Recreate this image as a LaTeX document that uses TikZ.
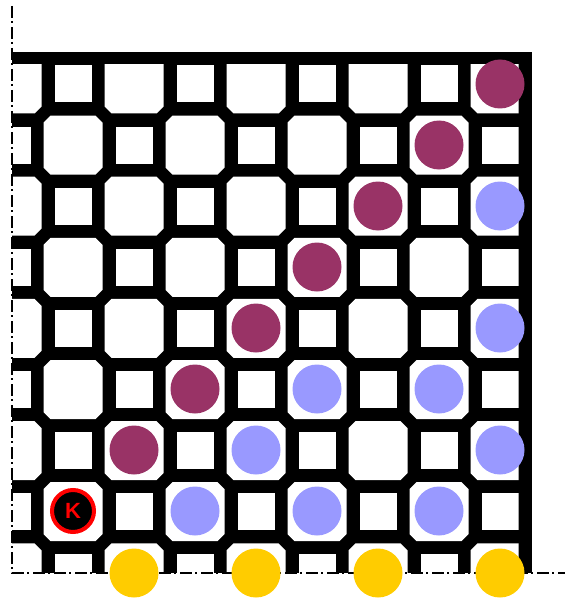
\documentclass[tikz,border=0pt]{standalone}
\usepackage{fontspec}
\setsansfont{Liberation Sans}
\definecolor{maroonc}{HTML}{993366}
\definecolor{bluec}{HTML}{9999FF}
\definecolor{yellowc}{HTML}{FFCC00}
\tikzset{
  piece/.style={circle, inner sep=0pt, minimum size=49pt},
  maroonpiece/.style={piece, fill=maroonc},
  bluepiece/.style={piece, fill=bluec},
  yellowpiece/.style={piece, fill=yellowc},
  kingpiece/.style={circle, inner sep=0pt, minimum size=42pt, fill=black, draw=red, line width=4pt, text=red, font=\sffamily\bfseries\fontsize{22}{22}\selectfont},
  axisline/.style={line width=1.3pt, dash pattern=on 12pt off 3pt on 2pt off 4pt}
}
\begin{document}
\begin{tikzpicture}[x=1pt,y=-1pt]
\useasboundingbox (0,0) rectangle (565,599);
% board
\fill[black] (12,52) rectangle (532,573);
\begin{scope}
\clip (12,64.5) rectangle (518.5,573);
\foreach \i in {-1,...,8} {
  \foreach \j in {-1,...,8} {
    \pgfmathsetmacro\cx{73+61*\i}
    \pgfmathsetmacro\cy{84+61.1*\j}
    \pgfmathtruncatemacro\pp{mod(\i+\j+2,2)}
    \ifnum\pp=1
      \fill[white] ({\cx-22.5},{\cy-29.5}) -- ({\cx+22.5},{\cy-29.5}) -- ({\cx+29.5},{\cy-22.5}) -- ({\cx+29.5},{\cy+22.5}) -- ({\cx+22.5},{\cy+29.5}) -- ({\cx-22.5},{\cy+29.5}) -- ({\cx-29.5},{\cy+22.5}) -- ({\cx-29.5},{\cy-22.5}) -- cycle;
    \else
      \fill[white] ({\cx-18.5},{\cy-18.5}) rectangle ({\cx+18.5},{\cy+18.5});
    \fi
  }
}
\end{scope}
% axes
\coordinate (axtop) at (12,6);
\coordinate (axorigin) at (12,573);
\coordinate (axright) at (565,573);
\draw[axisline] (axtop) -- (axorigin) -- (axright);
% maroon pieces
\node[maroonpiece] (m1) at (500,84) {};
\node[maroonpiece] (m2) at (439,145) {};
\node[maroonpiece] (m3) at (378,206) {};
\node[maroonpiece] (m4) at (317,267) {};
\node[maroonpiece] (m5) at (256,328) {};
\node[maroonpiece] (m6) at (195,389) {};
\node[maroonpiece] (m7) at (134,450) {};
% blue pieces
\node[bluepiece] (b1) at (500,206) {};
\node[bluepiece] (b2) at (500,328) {};
\node[bluepiece] (b3) at (317,389) {};
\node[bluepiece] (b4) at (439,389) {};
\node[bluepiece] (b5) at (256,450) {};
\node[bluepiece] (b6) at (500,450) {};
\node[bluepiece] (b7) at (195,511) {};
\node[bluepiece] (b8) at (317,511) {};
\node[bluepiece] (b9) at (439,511) {};
% yellow pieces
\node[yellowpiece] (y1) at (134,573) {};
\node[yellowpiece] (y2) at (256,573) {};
\node[yellowpiece] (y3) at (378,573) {};
\node[yellowpiece] (y4) at (500,573) {};
% king
\node[kingpiece] (k) at (73,511) {K};
\end{tikzpicture}
\end{document}
